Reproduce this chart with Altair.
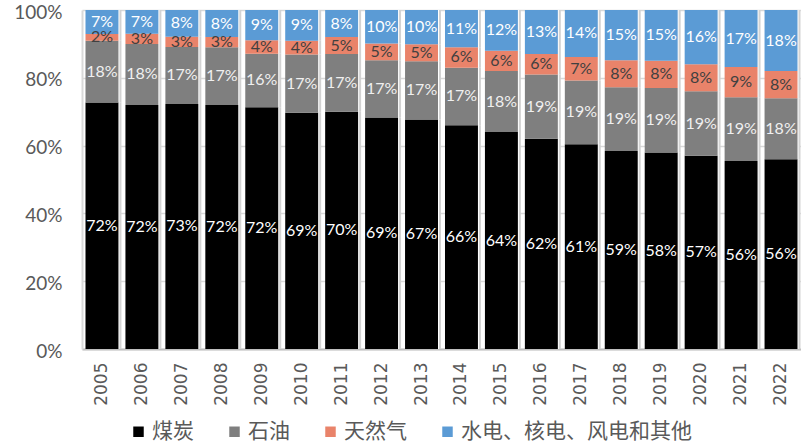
import altair as alt
import pandas as pd

# Energy mix shares (%) by year
years = [str(y) for y in range(2005, 2023)]
coal = [72, 72, 73, 72, 72, 69, 70, 69, 67, 66, 64, 62, 61, 59, 58, 57, 56, 56]
oil = [18, 18, 17, 17, 16, 17, 17, 17, 17, 17, 18, 19, 19, 19, 19, 19, 19, 18]
gas = [2, 3, 3, 3, 4, 4, 5, 5, 5, 6, 6, 6, 7, 8, 8, 8, 9, 8]
other = [7, 7, 8, 8, 9, 9, 8, 10, 10, 11, 12, 13, 14, 15, 15, 16, 17, 18]

series_names = ["煤炭", "石油", "天然气", "水电、核电、风电和其他"]
series_colors = ["#000000", "#7f7f7f", "#e9836a", "#5b9bd5"]

rows = []
for i, yr in enumerate(years):
    for k, (name, vals) in enumerate(zip(series_names, [coal, oil, gas, other])):
        rows.append({"year": yr, "series": name, "order": k, "value": vals[i]})
df = pd.DataFrame(rows)

FONT_NUM = "Lato"
FONT_CJK = "Noto Sans CJK SC"
TEXT_GREY = "#595959"

base = (
    alt.Chart(df)
    .transform_stack(
        stack="value",
        groupby=["year"],
        as_=["v0", "v1"],
        offset="normalize",
        sort=[alt.SortField("order", order="ascending")],
    )
    .transform_calculate(
        mid="(datum.v0 + datum.v1) / 2",
        label="datum.value + '%'",
        tc="datum.series === '天然气' ? '#404040' : (datum.series === '石油' ? '#f0f0f0' : '#ffffff')",
    )
)

x_enc = alt.X(
    "year:N",
    sort=years,
    title=None,
    scale=alt.Scale(paddingInner=0.175, paddingOuter=0.0875),
    axis=alt.Axis(
        labelAngle=-90,
        labelFont="DejaVu Sans",
        labelFontSize=17,
        labelColor=TEXT_GREY,
        labelPadding=13,
        ticks=False,
        domainColor="#bfbfbf",
        domainWidth=2,
        grid=False,
    ),
)

y_enc = alt.Y(
    "v0:Q",
    title=None,
    scale=alt.Scale(domain=[0, 1], nice=False),
    axis=alt.Axis(
        format=".0%",
        values=[0, 0.2, 0.4, 0.6, 0.8, 1.0],
        labelFont=FONT_NUM,
        labelFontSize=19,
        labelColor=TEXT_GREY,
        labelPadding=20,
        labelOffset=2,
        ticks=False,
        domainColor="#d9d9d9",
        domainWidth=2,
        gridColor="#d9d9d9",
        gridWidth=1.5,
    ),
)

# soft shadow to the right of each column
shadow = base.mark_bar(color="#d3d3d3", xOffset=3).encode(x=x_enc, y=y_enc, y2="v1:Q")
gap = base.mark_bar(color="#ffffff", xOffset=1).encode(x=x_enc, y=y_enc, y2="v1:Q")

bars = base.mark_bar().encode(
    x=x_enc,
    y=y_enc,
    y2="v1:Q",
    color=alt.Color(
        "series:N",
        scale=alt.Scale(domain=series_names, range=series_colors),
        sort=series_names,
        legend=alt.Legend(
            title=None,
            orient="none",
            legendX=46,
            legendY=411,
            direction="horizontal",
            symbolType="square",
            symbolSize=110,
            symbolStrokeWidth=0,
            labelFont=FONT_CJK,
            labelFontSize=21,
            labelColor=TEXT_GREY,
            labelLimit=400,
            labelOffset=3,
            columnPadding=30,
            padding=0,
        ),
    ),
)

labels = base.mark_text(font=FONT_NUM, fontSize=16, baseline="middle").encode(
    x=x_enc,
    y=alt.Y("mid:Q", scale=alt.Scale(domain=[0, 1], nice=False)),
    text="label:N",
    color=alt.Color("tc:N", scale=None),
)

chart = (
    alt.layer(shadow, gap, bars, labels)
    .properties(
        width=719,
        height=339,
        autosize=alt.AutoSizeParams(type="none"),
        padding={"left": 82, "top": 10, "right": 0, "bottom": 98},
        background="#ffffff",
    )
    .configure_view(stroke=None)
)

chart.save("out.html", embed_options={"renderer": "svg", "actions": False})
